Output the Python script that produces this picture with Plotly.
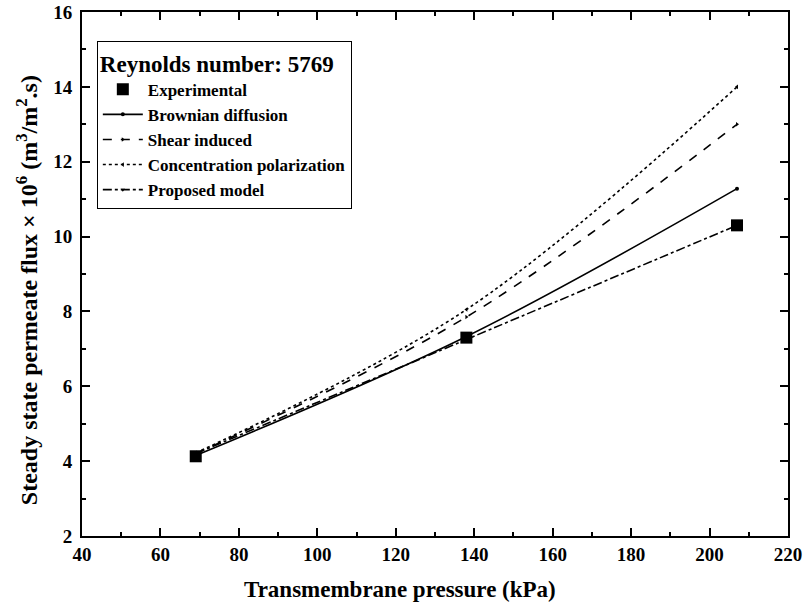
import plotly.graph_objects as go

tmp = [69, 138, 207]
experimental = [4.13, 7.30, 10.30]
brownian = [4.15, 7.33, 11.28]
shear = [4.20, 7.85, 13.00]
conc_pol = [4.22, 8.05, 14.00]
proposed = [4.20, 7.25, 10.30]

x_ticks = [40, 60, 80, 100, 120, 140, 160, 180, 200, 220]
y_ticks = [2, 4, 6, 8, 10, 12, 14, 16]

FONT = "Liberation Serif"

fig = go.Figure()

def model(name, y, dash, sym):
    fig.add_trace(go.Scatter(
        x=tmp, y=y, name="<b>" + name + "</b>", mode="lines+markers",
        line=dict(color="black", width=1.6, dash=dash, shape="spline", smoothing=1),
        marker=dict(symbol=sym, size=4, color="black"),
    ))

fig.add_trace(go.Scatter(
    x=tmp, y=experimental, name="<b>Experimental</b>", mode="markers",
    marker=dict(symbol="square", size=12, color="black"),
))
model("Brownian diffusion", brownian, "solid", "circle")
model("Shear induced", shear, "dash", "triangle-right")
model("Concentration polarization", conc_pol, "dot", "triangle-left")
model("Proposed model", proposed, "dashdot", "triangle-down")

axis_common = dict(
    showline=True, linecolor="black", linewidth=2, mirror="ticks",
    ticks="inside", ticklen=8, tickwidth=1.5, tickcolor="black",
    showgrid=False, zeroline=False, automargin=False,
    tickfont=dict(family=FONT, size=19, color="black", weight="bold"),
)

fig.update_xaxes(
    range=[40, 220], tickmode="array", tickvals=x_ticks,
    ticktext=["<b>%d</b>" % v for v in x_ticks],
    minor=dict(ticks="inside", ticklen=4, tickwidth=1.5, tickcolor="black", dtick=10, tick0=40),
    **axis_common,
)
fig.update_yaxes(
    range=[2, 16], tickmode="array", tickvals=y_ticks,
    ticktext=["<b>%d</b>" % v for v in y_ticks],
    minor=dict(ticks="inside", ticklen=4, tickwidth=1.5, tickcolor="black", dtick=1, tick0=2),
    ticklabelstandoff=4,
    **axis_common,
)

fig.add_annotation(
    text="<b>Transmembrane pressure (kPa)</b>", xref="paper", yref="paper",
    x=0.45, y=-0.103, xanchor="center", yanchor="middle", showarrow=False,
    font=dict(family=FONT, size=23, color="black"),
)
fig.add_annotation(
    text="<b>Steady state permeate flux × 10<sup>6</sup> (m<sup>3</sup>/m<sup>2</sup>.s)</b>",
    xref="paper", yref="paper", x=-0.078, y=0.469, xanchor="center", yanchor="middle",
    textangle=-90, showarrow=False,
    font=dict(family=FONT, size=24, color="black"),
)

fig.update_layout(
    width=805, height=610,
    margin=dict(l=82, r=17, t=12, b=74),
    paper_bgcolor="white", plot_bgcolor="white",
    font=dict(family=FONT, color="black"),
    showlegend=True,
    legend=dict(
        x=0.021, y=0.945, xanchor="left", yanchor="top",
        bgcolor="rgba(255,255,255,0)", bordercolor="black", borderwidth=1,
        font=dict(family=FONT, size=17, color="black"),
        title=dict(text="<b>Reynolds number: 5769</b>",
                   font=dict(family=FONT, size=23, color="black")),
        itemwidth=40, tracegroupgap=0,
    ),
)

fig.write_html("out.html")
